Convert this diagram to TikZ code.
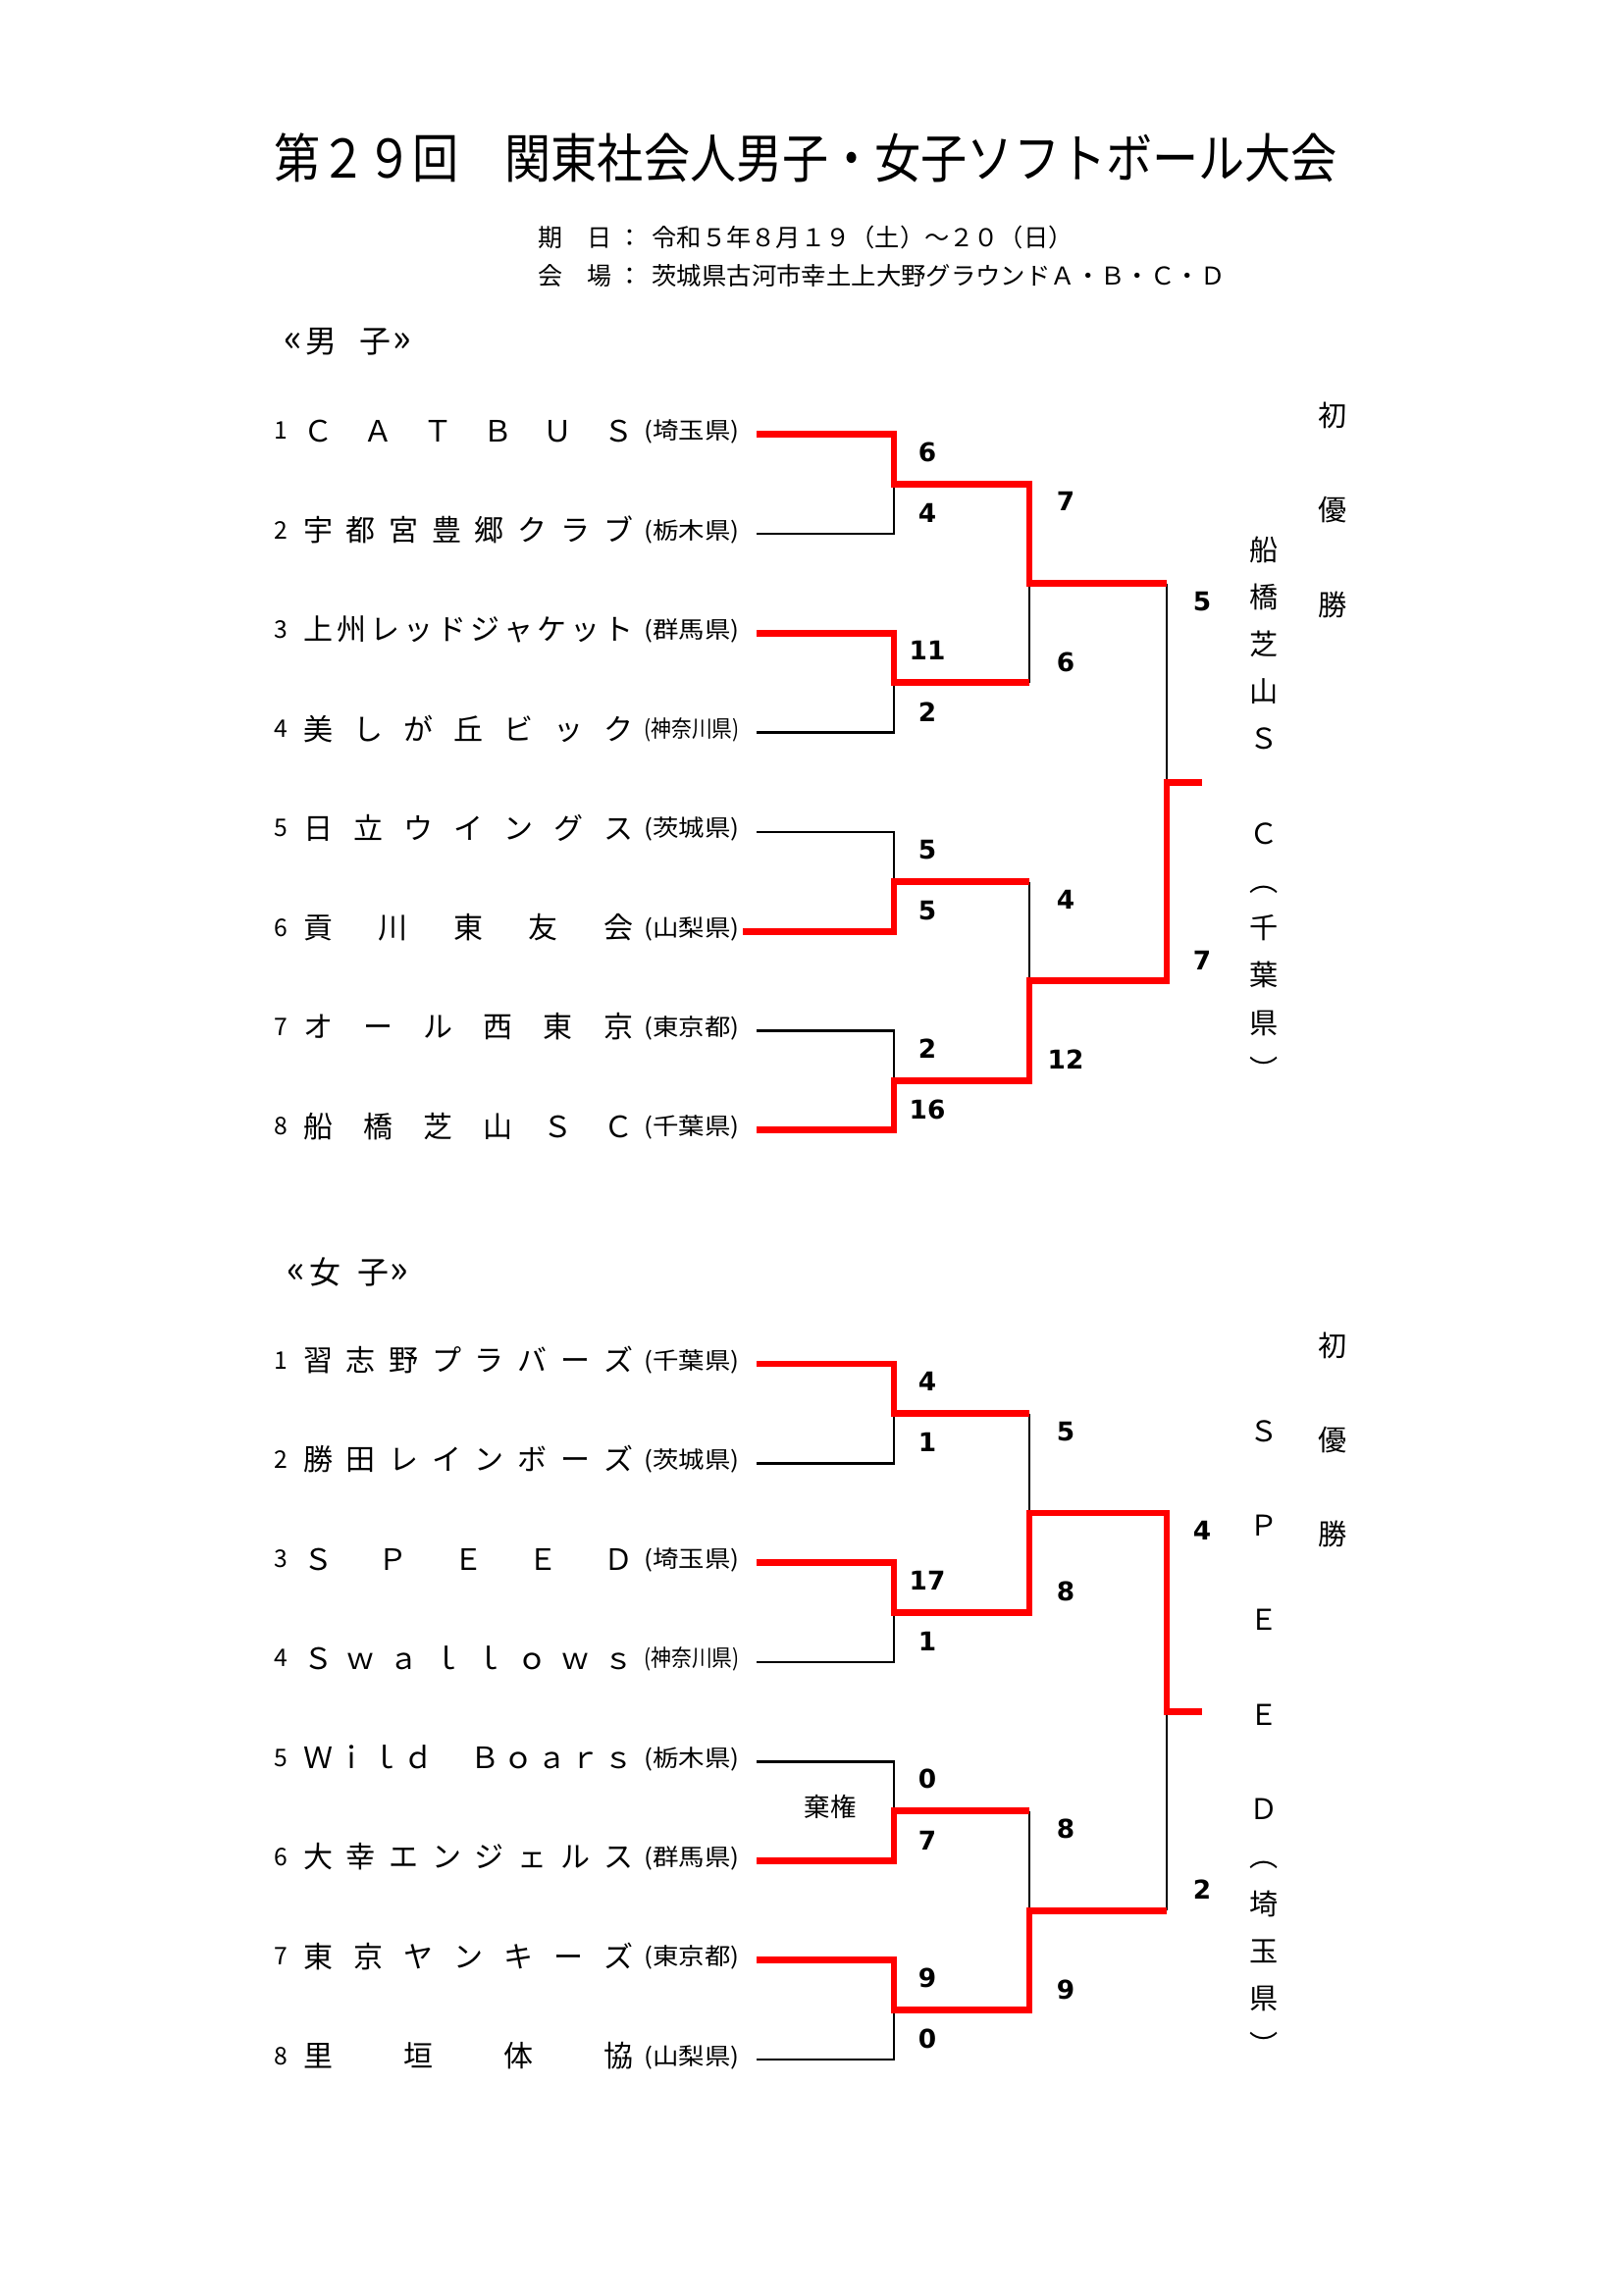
\documentclass[tikz,border=0pt]{standalone}
\usepackage{fontspec}
\usepackage{graphicx}
\setmainfont{Noto Sans CJK JP}
\newfontfamily\scorefont{DejaVu Sans}
\newcommand\teamrow[7]{%
  \node[num] (#1no#2) at (286,#3-4) {#4};
  \foreach \ch [count=\j] in {#6} {\node[nm] (#1n#2c\j) at ({324+(\j-1)*306/(#5-1)},#3-4) {\ch};}
  \node[pref] (#1p#2) at (705,#3-4) {\resizebox{35pt}{\height}{(#7)}};
}
\newcommand\bcoords[2]{%
  \foreach \i in {1,...,8} {\coordinate (#1t\i) at (771,{#2+(\i-1)*101.3});}
  \foreach \k in {1,...,4} {\coordinate (#1m\k) at (911,{#2+(2*\k-1.5)*101.3});}
  \coordinate (#1s1) at (1049,{#2+1.5*101.3});
  \coordinate (#1s2) at (1049,{#2+5.5*101.3});
  \coordinate (#1f) at (1189,{#2+3.5*101.3});
  \coordinate (#1fe) at (1225,{#2+3.5*101.3});
}
\begin{document}
\begin{tikzpicture}[x=0.36pt,y=-0.36pt,
  blk/.style={line width=0.95pt,draw=black},
  win/.style={line width=2.5pt,draw=red,line join=miter},
  nm/.style={inner sep=0pt,text height=9.5pt,text depth=1.3pt,font=\fontsize{10.8}{12}\selectfont},
  num/.style={inner sep=0pt,text height=6.5pt,text depth=0pt,font=\fontsize{8.9}{10}\selectfont},
  pref/.style={inner sep=0pt,text height=7.5pt,text depth=1pt,font=\fontsize{8.5}{9}\selectfont},
  score/.style={inner sep=0pt,text height=6.93pt,text depth=0pt,font=\fontsize{9.5}{11}\scorefont\bfseries},
  champ/.style={inner sep=0pt,text height=9.24pt,text depth=1.26pt,font=\fontsize{10.5}{12}\selectfont},
  sub/.style={inner sep=0pt,text height=7.9pt,text depth=1.1pt,font=\fontsize{9}{11}\selectfont},
  head/.style={inner sep=0pt,text height=10.1pt,text depth=1.4pt,font=\fontsize{11.5}{12}\selectfont},
  guil/.style={inner sep=0pt,font=\fontsize{14}{14}\selectfont},
]
\useasboundingbox (0,0) rectangle (1654,2339);
\fill[white] (0,0) rectangle (1654,2339);

% title and subtitles
\node[inner sep=0pt,text height=17.16pt,text depth=2.34pt,font=\fontsize{19.5}{22}\selectfont] (title) at (821,161)
  {\scalebox{0.87}[1]{第２９回　関東社会人男子・女子ソフトボール大会}};
\node[sub] (dlabel) at (586,242) {期　日};
\node[sub] (dcolon) at (642,242) {：};
\node[sub,anchor=west] (date) at (664,242) {\resizebox{154.5pt}{\height}{令和５年８月１９（土）～２０（日）}};
\node[sub] (plabel) at (586,281) {会　場};
\node[sub] (pcolon) at (642,281) {：};
\node[sub,anchor=west] (place) at (664,281) {\resizebox{210.2pt}{\height}{茨城県古河市幸土上大野グラウンドＡ・Ｂ・Ｃ・Ｄ}};

% ===== men =====
\node[guil] (mg1) at (299,349) {«};
\node[head] (mh1) at (327,347.5) {男};
\node[head] (mh2) at (382.5,347.5) {子};
\node[guil] (mg2) at (410,349) {»};
\bcoords{M}{442.7}
\coordinate (Mt6) at (757,949.2);
\teamrow{M}{1}{442.7}{1}{6}{Ｃ,Ａ,Ｔ,Ｂ,Ｕ,Ｓ}{埼玉県}
\teamrow{M}{2}{544.0}{2}{8}{宇,都,宮,豊,郷,ク,ラ,ブ}{栃木県}
\teamrow{M}{3}{645.3}{3}{10}{上,州,レ,ッ,ド,ジ,ャ,ケ,ッ,ト}{群馬県}
\teamrow{M}{4}{746.6}{4}{7}{美,し,が,丘,ビ,ッ,ク}{神奈川県}
\teamrow{M}{5}{847.9}{5}{7}{日,立,ウ,イ,ン,グ,ス}{茨城県}
\teamrow{M}{6}{949.2}{6}{5}{貢,川,東,友,会}{山梨県}
\teamrow{M}{7}{1050.5}{7}{6}{オ,ー,ル,西,東,京}{東京都}
\teamrow{M}{8}{1151.8}{8}{6}{船,橋,芝,山,Ｓ,Ｃ}{千葉県}

\draw[blk] (Mt2) -| (Mm1);
\draw[blk] (Mt4) -| (Mm2);
\draw[blk] (Mt5) -| (Mm3);
\draw[blk] (Mt7) -| (Mm4);
\draw[blk] (Mm2 -| Ms1) -- (Ms1);
\draw[blk] (Mm3 -| Ms2) -- (Ms2);
\draw[blk] (Ms1 -| Mf) -- (Mf);
\draw[win] (Mt1) -| (Mm1) -| (Ms1) -- (Ms1 -| Mf);
\draw[win] (Mt3) -| (Mm2) -- (Mm2 -| Ms1);
\draw[win] (Mt6) -| (Mm3) -- (Mm3 -| Ms2);
\draw[win] (Mt8) -| (Mm4) -| (Ms2) -| (Mf) -- (Mfe);

\node[score] (Ma1) at (945,460.7) {6};
\node[score] (Mb1) at (945,523.0) {4};
\node[score] (Ma2) at (945,663.3) {11};
\node[score] (Mb2) at (945,725.6) {2};
\node[score] (Ma3) at (945,865.9) {5};
\node[score] (Mb3) at (945,928.2) {5};
\node[score] (Ma4) at (945,1068.5) {2};
\node[score] (Mb4) at (945,1130.8) {16};
\node[score] (Mc1) at (1086,511.35) {7};
\node[score] (Md1) at (1086,674.95) {6};
\node[score] (Mc2) at (1086,916.55) {4};
\node[score] (Md2) at (1086,1080.15) {12};
\node[score] (Me1) at (1225,612.65) {5};
\node[score] (Me2) at (1225,978.85) {7};

\foreach \ch [count=\j] in {船,橋,芝,山,Ｓ,　,Ｃ,︵,千,葉,県,︶}
  {\node[champ] (Mw\j) at (1288,{560+(\j-1)*48.2}) {\ch};}
\foreach \ch [count=\j] in {初,優,勝}
  {\node[champ] (Mh\j) at (1358,{423+(\j-1)*96.5}) {\ch};}

% ===== women =====
\node[guil] (wg1) at (302,1298) {«};
\node[head] (wh1) at (331,1296.5) {女};
\node[head] (wh2) at (380,1296.5) {子};
\node[guil] (wg2) at (407,1298) {»};
\bcoords{W}{1390.0}
\teamrow{W}{1}{1390.0}{1}{8}{習,志,野,プ,ラ,バ,ー,ズ}{千葉県}
\teamrow{W}{2}{1491.3}{2}{8}{勝,田,レ,イ,ン,ボ,ー,ズ}{茨城県}
\teamrow{W}{3}{1592.6}{3}{5}{Ｓ,Ｐ,Ｅ,Ｅ,Ｄ}{埼玉県}
\teamrow{W}{4}{1693.9}{4}{8}{Ｓ,ｗ,ａ,ｌ,ｌ,ｏ,ｗ,ｓ}{神奈川県}
\teamrow{W}{5}{1795.2}{5}{10}{Ｗ,ｉ,ｌ,ｄ,　,Ｂ,ｏ,ａ,ｒ,ｓ}{栃木県}
\teamrow{W}{6}{1896.5}{6}{8}{大,幸,エ,ン,ジ,ェ,ル,ス}{群馬県}
\teamrow{W}{7}{1997.8}{7}{7}{東,京,ヤ,ン,キ,ー,ズ}{東京都}
\teamrow{W}{8}{2099.1}{8}{4}{里,垣,体,協}{山梨県}

\draw[blk] (Wt2) -| (Wm1);
\draw[blk] (Wt4) -| (Wm2);
\draw[blk] (Wt5) -| (Wm3);
\draw[blk] (Wt8) -| (Wm4);
\draw[blk] (Wm1 -| Ws1) -- (Ws1);
\draw[blk] (Wm3 -| Ws2) -- (Ws2);
\draw[blk] (Ws2 -| Wf) -- (Wf);
\draw[win] (Wt1) -| (Wm1) -- (Wm1 -| Ws1);
\draw[win] (Wt3) -| (Wm2) -| (Ws1) -| (Wf) -- (Wfe);
\draw[win] (Wt6) -| (Wm3) -- (Wm3 -| Ws2);
\draw[win] (Wt7) -| (Wm4) -| (Ws2) -- (Ws2 -| Wf);

\node[inner sep=0pt,text height=8.4pt,text depth=1.1pt,font=\fontsize{9.5}{11}\selectfont] (forfeit) at (846,1841) {棄権};

\node[score] (Wa1) at (945,1408.0) {4};
\node[score] (Wb1) at (945,1470.3) {1};
\node[score] (Wa2) at (945,1610.6) {17};
\node[score] (Wb2) at (945,1672.9) {1};
\node[score] (Wa3) at (945,1813.2) {0};
\node[score] (Wb3) at (945,1875.5) {7};
\node[score] (Wa4) at (945,2015.8) {9};
\node[score] (Wb4) at (945,2078.1) {0};
\node[score] (Wc1) at (1086,1458.65) {5};
\node[score] (Wd1) at (1086,1622.25) {8};
\node[score] (Wc2) at (1086,1863.85) {8};
\node[score] (Wd2) at (1086,2027.45) {9};
\node[score] (We1) at (1225,1559.95) {4};
\node[score] (We2) at (1225,1926.15) {2};

\foreach \ch [count=\j] in {Ｓ,　,Ｐ,　,Ｅ,　,Ｅ,　,Ｄ,︵,埼,玉,県,︶}
  {\node[champ] (Ww\j) at (1288,{1458+(\j-1)*48.2}) {\ch};}
\foreach \ch [count=\j] in {初,優,勝}
  {\node[champ] (Wh\j) at (1358,{1371+(\j-1)*96}) {\ch};}
\end{tikzpicture}
\end{document}
